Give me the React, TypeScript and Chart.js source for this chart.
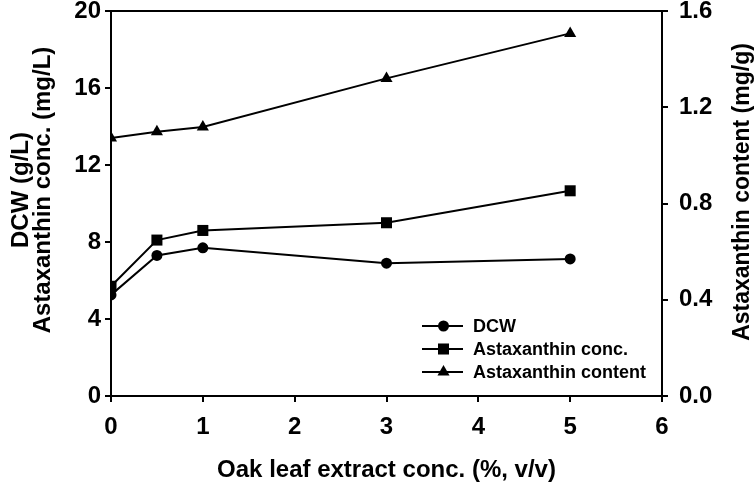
import React, { useEffect, useRef } from "react";
import { Chart, registerables } from "chart.js";

Chart.register(...registerables);

const xValues = [0, 0.5, 1, 3, 5];
const dcw = [5.25, 7.3, 7.7, 6.9, 7.12];
const astaConc = [5.7, 8.1, 8.6, 9.0, 10.66];
const astaContent = [1.072, 1.098, 1.118, 1.32, 1.507];

const xTitle = "Oak leaf extract conc. (%, v/v)";
const leftTitle = ["DCW (g/L)", "Astaxanthin conc. (mg/L)"];
const rightTitle = "Astaxanthin content (mg/g)";
const legendLabels = ["DCW", "Astaxanthin conc.", "Astaxanthin content"];
const pointStyles = ["circle", "rect", "triangle"] as const;
const pointRadii = [5.5, 7.8, 7];

const FONT = "'Liberation Sans', Arial, Helvetica, sans-serif";

const toPts = (ys: number[]) => ys.map((y, i) => ({ x: xValues[i], y }));

export default function App() {
  const ref = useRef<HTMLCanvasElement | null>(null);

  useEffect(() => {
    if (!ref.current) return;
    Chart.defaults.font.family = FONT;
    Chart.defaults.color = "#000";

    const framePlugin = {
      id: "frameAndLegend",
      afterDraw(chart: any) {
        const { ctx, chartArea } = chart;
        ctx.save();
        // top border
        ctx.strokeStyle = "#000";
        ctx.lineWidth = 2;
        ctx.beginPath();
        ctx.moveTo(chartArea.left - 1, chartArea.top);
        ctx.lineTo(chartArea.right + 1, chartArea.top);
        ctx.stroke();
        ctx.restore();

        const titleY = 190;
        // left axis titles, rotated -90
        ctx.save();
        ctx.fillStyle = "#000";
        ctx.font = `bold 24px ${FONT}`;
        ctx.textAlign = "center";
        ctx.textBaseline = "middle";
        ctx.translate(21, titleY);
        ctx.rotate(-Math.PI / 2);
        ctx.fillText(leftTitle[0], 0, 0);
        ctx.fillText(leftTitle[1], 0, 22);
        ctx.restore();

        // right axis title, rotated -90
        ctx.save();
        ctx.fillStyle = "#000";
        ctx.font = `bold 23px ${FONT}`;
        ctx.textAlign = "center";
        ctx.textBaseline = "middle";
        ctx.translate(743, titleY + 2);
        ctx.rotate(-Math.PI / 2);
        ctx.fillText(rightTitle, 0, 0);
        ctx.restore();

        // legend
        ctx.save();
        const lx0 = 422;
        const lx1 = 463;
        const rowY = [326, 349, 372];
        legendLabels.forEach((label, i) => {
          const y = rowY[i];
          ctx.strokeStyle = "#000";
          ctx.lineWidth = 2;
          ctx.beginPath();
          ctx.moveTo(lx0, y);
          ctx.lineTo(lx1, y);
          ctx.stroke();
          ctx.fillStyle = "#000";
          const cx = (lx0 + lx1) / 2 + 1;
          const r = pointRadii[i];
          ctx.beginPath();
          if (pointStyles[i] === "circle") {
            ctx.arc(cx, y, r, 0, Math.PI * 2);
          } else if (pointStyles[i] === "rect") {
            const s = r * Math.SQRT1_2;
            ctx.rect(cx - s, y - s, 2 * s, 2 * s);
          } else {
            ctx.moveTo(cx, y - r);
            ctx.lineTo(cx + r * Math.sin((2 * Math.PI) / 3), y - r * Math.cos((2 * Math.PI) / 3));
            ctx.lineTo(cx + r * Math.sin((4 * Math.PI) / 3), y - r * Math.cos((4 * Math.PI) / 3));
            ctx.closePath();
          }
          ctx.fill();
          ctx.font = `bold 18px ${FONT}`;
          ctx.textAlign = "left";
          ctx.textBaseline = "middle";
          ctx.fillText(label, 473, y + 1);
        });
        ctx.restore();
      },
    };

    const mkDs = (label: string, ys: number[], i: number, axis: string) => ({
      label,
      data: toPts(ys),
      yAxisID: axis,
      borderColor: "#000",
      backgroundColor: "#000",
      borderWidth: 2,
      pointStyle: pointStyles[i],
      pointRadius: pointRadii[i],
      pointBorderWidth: 0,
      pointBackgroundColor: "#000",
      tension: 0,
    });

    const gridOpts = {
      display: true,
      drawOnChartArea: false,
      drawTicks: true,
      tickLength: 6,
      color: "#000",
      lineWidth: 2,
    };
    const borderOpts = { display: true, color: "#000", width: 2 };
    const tickFont = { size: 24, weight: "bold" };
    const noPadV = (s: any) => {
      s.paddingTop = 0;
      s.paddingBottom = 0;
    };

    const chart = new Chart(ref.current, {
      type: "line",
      data: {
        datasets: [
          mkDs(legendLabels[0], dcw, 0, "y"),
          mkDs(legendLabels[1], astaConc, 1, "y"),
          mkDs(legendLabels[2], astaContent, 2, "y2"),
        ],
      },
      plugins: [framePlugin],
      options: {
        animation: false,
        responsive: false,
        layout: { padding: { top: 11, left: 0, right: 0, bottom: 0 } },
        plugins: { legend: { display: false }, tooltip: { enabled: false } },
        scales: {
          x: {
            type: "linear",
            position: "bottom",
            min: 0,
            max: 6,
            ticks: { stepSize: 1, padding: 11, font: tickFont },
            grid: gridOpts,
            border: borderOpts,
            title: {
              display: true,
              text: xTitle,
              font: { size: 24, weight: "bold", lineHeight: 1 },
              padding: { top: 0, bottom: 3 },
            },
            afterFit: (s: any) => {
              s.height = 89;
              s.paddingLeft = 0;
              s.paddingRight = 0;
            },
          },
          y: {
            type: "linear",
            position: "left",
            min: 0,
            max: 20,
            ticks: { stepSize: 4, padding: 4, font: tickFont },
            grid: gridOpts,
            border: borderOpts,
            afterFit: (s: any) => {
              s.width = 111;
              noPadV(s);
            },
          },
          y2: {
            type: "linear",
            position: "right",
            min: 0,
            max: 1.6,
            ticks: {
              stepSize: 0.4,
              padding: 11,
              font: tickFont,
              callback: (v: any) => Number(v).toFixed(1),
            },
            grid: gridOpts,
            border: borderOpts,
            afterFit: (s: any) => {
              s.width = 94;
              noPadV(s);
            },
          },
        },
      },
    } as any);

    return () => chart.destroy();
  }, []);

  return (
    <div style={{ position: "fixed", left: 0, top: 0, width: 756, height: 485, background: "#fff" }}>
      <canvas ref={ref} width={756} height={485} style={{ width: 756, height: 485 }} />
    </div>
  );
}
